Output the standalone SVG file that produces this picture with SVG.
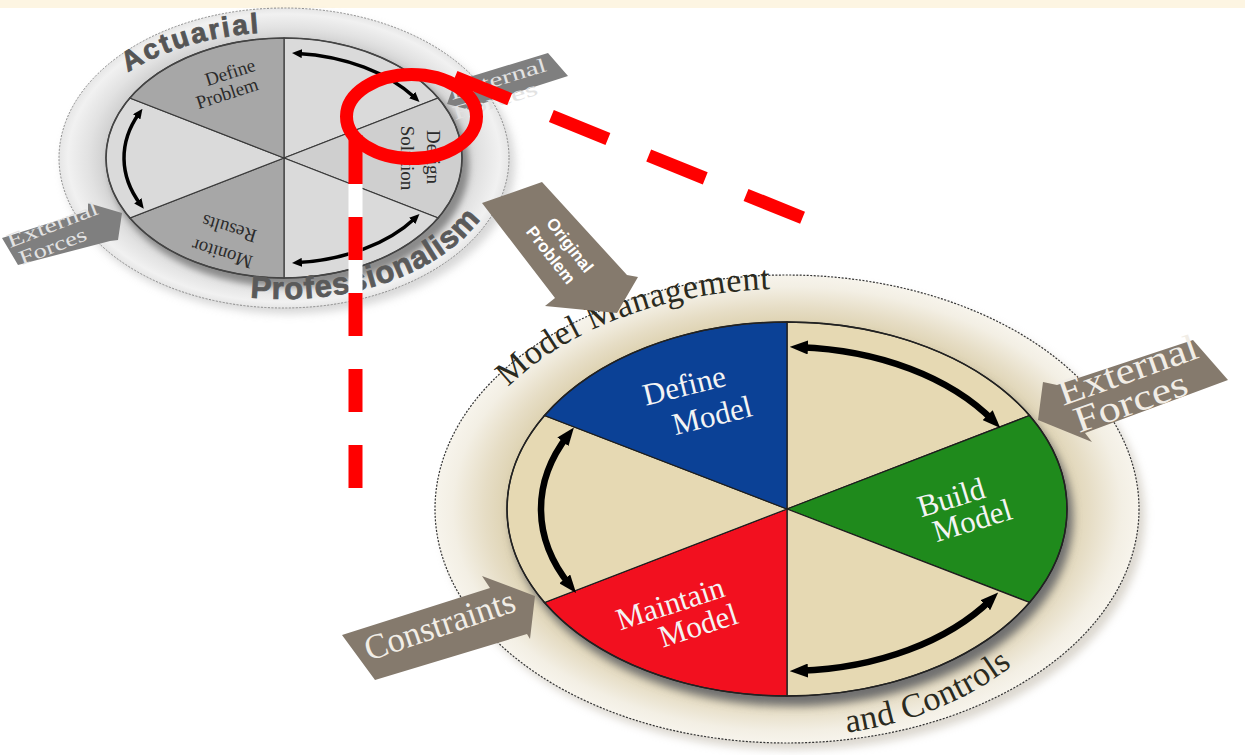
<svg xmlns="http://www.w3.org/2000/svg" width="1245" height="755" viewBox="0 0 1245 755">
<style>
.serif{font-family:"Liberation Serif","Times New Roman",serif}
.sans{font-family:"Liberation Sans",Arial,sans-serif;font-weight:bold}
.sec{stroke:#3a3a3a;stroke-width:1.2}
.bsec{stroke:#1e1e1e;stroke-width:1.3}
.arcS{fill:none;stroke:#000;stroke-width:3.5;marker-start:url(#hs);marker-end:url(#hs)}
.arcB{fill:none;stroke:#000;stroke-width:6.5;marker-start:url(#hb);marker-end:url(#hb)}
.lbl{font-size:31px;fill:#f4f4f4;text-anchor:middle}
.slbl{font-size:19px;fill:#2b2b2b;text-anchor:middle}
.garrow{fill:#7f7f7f}
.barrow{fill:#857a6d}
.gtxt{font-size:20px;fill:#e2e2e2}
.btxt{fill:#f1ede6}
.red{fill:none;stroke:#ff0000;stroke-linecap:butt}
</style>
<defs>
<radialGradient id="ringBig" cx="0.5" cy="0.5" r="0.5">
<stop offset="0.78" stop-color="#dcd0ad"/>
<stop offset="0.86" stop-color="#e6ddc5"/>
<stop offset="0.95" stop-color="#f3efe4"/>
<stop offset="1" stop-color="#f7f4ec"/>
</radialGradient>
<radialGradient id="ringSmall" cx="0.5" cy="0.5" r="0.5">
<stop offset="0.78" stop-color="#cdcdcd"/>
<stop offset="0.87" stop-color="#e2e2e2"/>
<stop offset="0.96" stop-color="#f1f1f1"/>
<stop offset="1" stop-color="#e6e6e6"/>
</radialGradient>
<filter id="blur4" x="-10%" y="-10%" width="120%" height="120%"><feGaussianBlur stdDeviation="4"/></filter>
<filter id="blur3" x="-10%" y="-10%" width="120%" height="120%"><feGaussianBlur stdDeviation="3"/></filter>
<marker id="hb" viewBox="0 0 18 14" markerWidth="18" markerHeight="14" refX="8" refY="7" orient="auto-start-reverse" markerUnits="userSpaceOnUse"><path d="M0,0 L18,7 L0,14 z" fill="#000"/></marker>
<marker id="hs" viewBox="0 0 10 9" markerWidth="10" markerHeight="9" refX="4" refY="4.5" orient="auto-start-reverse" markerUnits="userSpaceOnUse"><path d="M0,0 L10,4.5 L0,9 z" fill="#000"/></marker>
<path id="pMM" d="M508,387.3 A335,220 0 0 1 845.2,292.3"/>
<path id="pAC" d="M847,732.7 A310,228 0 0 0 1055.5,623"/>
<path id="pAct" d="M128,72.4 A212,126 0 0 1 320.8,34"/>
<path id="pPro" d="M250,297.3 A218,141 0 0 0 494.6,194.5"/>
</defs>

<rect x="0" y="0" width="1245" height="755" fill="#ffffff"/>
<rect x="0" y="0" width="1245" height="8" fill="#fdf5e2"/>

<g id="actuarial-cycle">
<ellipse cx="289" cy="164" rx="226" ry="150" fill="#bdbdbd" opacity="0.6" filter="url(#blur4)"/>
<ellipse cx="284" cy="158" rx="225" ry="150" fill="url(#ringSmall)" stroke="#8a8a8a" stroke-width="1" stroke-dasharray="2 1.5"/>
<ellipse cx="289" cy="165" rx="180" ry="122" fill="#8a8a8a" filter="url(#blur3)"/>
<path class="sec" fill="#dadada" d="M284,158 L284,38 A178,120 0 0 1 438.2,98 Z"/>
<path class="sec" fill="#cfcfcf" d="M284,158 L438.2,98 A178,120 0 0 1 438.2,218 Z"/>
<path class="sec" fill="#dadada" d="M284,158 L438.2,218 A178,120 0 0 1 284,278 Z"/>
<path class="sec" fill="#a7a7a7" d="M284,158 L284,278 A178,120 0 0 1 129.8,218 Z"/>
<path class="sec" fill="#dadada" d="M284,158 L129.8,218 A178,120 0 0 1 129.8,98 Z"/>
<path class="sec" fill="#a7a7a7" d="M284,158 L129.8,98 A178,120 0 0 1 284,38 Z"/>
<ellipse cx="284" cy="158" rx="178" ry="120" fill="none" stroke="#444" stroke-width="1.5"/>
<path class="arcS" d="M297.9,53.4 A160,105 0 0 1 415.1,97.8"/>
<path class="arcS" d="M139,113.6 A160,105 0 0 0 140.2,204"/>
<path class="arcS" d="M415.1,218.2 A160,105 0 0 1 297.9,262.6"/>
<text class="sans" font-size="28" fill="#555" stroke="#555" stroke-width="0.8"><textPath href="#pAct" textLength="138">Actuarial</textPath></text>
<text class="sans" font-size="31" fill="#5a5a5a" stroke="#5a5a5a" stroke-width="0.8"><textPath href="#pPro" textLength="253">Professionalism</textPath></text>
<text class="serif slbl" transform="translate(230,72) rotate(-18)" dy="0.35em">Define</text>
<text class="serif slbl" transform="translate(227,93) rotate(-18)" dy="0.35em">Problem</text>
<text class="serif slbl" transform="translate(434,157) rotate(90)" dy="0.35em">Design</text>
<text class="serif slbl" transform="translate(408,158) rotate(90)" dy="0.35em">Solution</text>
<text class="serif slbl" font-size="20" transform="translate(222,254) rotate(197)" dy="0.35em">Monitor</text>
<text class="serif slbl" font-size="20" transform="translate(229,229) rotate(197)" dy="0.35em">Results</text>
</g>

<g id="external-forces-left">
<polygon class="garrow" points="2,238 88,211 88,203 122,213 118,240 110,241 18,265"/>
<text class="serif gtxt" transform="translate(10,248) rotate(-21)" textLength="96" lengthAdjust="spacingAndGlyphs">External</text>
<text class="serif gtxt" transform="translate(22,265) rotate(-21)" textLength="71" lengthAdjust="spacingAndGlyphs">Forces</text>
</g>

<g id="external-forces-top">
<polygon class="garrow" points="447,104 455,82 466,78 548,53 568,76 484,103 478,112"/>
<text class="serif gtxt" transform="translate(452,100) rotate(-17)" textLength="100" lengthAdjust="spacingAndGlyphs">External</text>
<text class="serif gtxt" transform="translate(455,120) rotate(-17)" textLength="88" lengthAdjust="spacingAndGlyphs">Forces</text>
</g>

<g id="model-management-cycle">
<ellipse cx="793" cy="516" rx="352" ry="234" fill="#b9b1a1" opacity="0.5" filter="url(#blur4)"/>
<ellipse cx="787" cy="509" rx="352" ry="234" fill="url(#ringBig)" stroke="#333" stroke-width="1.2" stroke-dasharray="2 1.5"/>
<ellipse cx="792" cy="518" rx="281" ry="188" fill="#707070" filter="url(#blur4)"/>
<path class="bsec" fill="#e6d9b3" d="M787,509 L787,322 A280,187 0 0 1 1029.5,415.5 Z"/>
<path class="bsec" fill="#1f8a1c" d="M787,509 L1029.5,415.5 A280,187 0 0 1 1029.5,602.5 Z"/>
<path class="bsec" fill="#e6d9b3" d="M787,509 L1029.5,602.5 A280,187 0 0 1 787,696 Z"/>
<path class="bsec" fill="#f2101f" d="M787,509 L787,696 A280,187 0 0 1 544.5,602.5 Z"/>
<path class="bsec" fill="#e6d9b3" d="M787,509 L544.5,602.5 A280,187 0 0 1 544.5,415.5 Z"/>
<path class="bsec" fill="#0b4196" d="M787,509 L544.5,415.5 A280,187 0 0 1 787,322 Z"/>
<ellipse cx="787" cy="509" rx="280" ry="187" fill="none" stroke="#222" stroke-width="1.5"/>
<path class="arcB" d="M799.9,347.2 A246,162 0 0 1 993.3,420.8"/>
<path class="arcB" d="M567.8,435.5 A246,162 0 0 0 569.8,585.1"/>
<path class="arcB" d="M991,599.6 A246,162 0 0 1 799.9,670.8"/>
<text class="serif" font-size="34" fill="#2a2a20"><textPath href="#pMM" textLength="286">Model Management</textPath></text>
<text class="serif" font-size="34" fill="#2a2a20"><textPath href="#pAC" textLength="180">and Controls</textPath></text>
<text class="serif lbl" transform="translate(684,385) rotate(-14)" dy="0.35em">Define</text>
<text class="serif lbl" transform="translate(712,415) rotate(-14)" dy="0.35em">Model</text>
<text class="serif lbl" transform="translate(951,497) rotate(-17)" dy="0.35em">Build</text>
<text class="serif lbl" transform="translate(972,520) rotate(-17)" dy="0.35em">Model</text>
<text class="serif lbl" transform="translate(670,603) rotate(-18)" dy="0.35em">Maintain</text>
<text class="serif lbl" transform="translate(698,625) rotate(-18)" dy="0.35em">Model</text>
</g>

<g id="original-problem">
<polygon class="barrow" points="482,203 542,182 627,275 638,277 617,313 545,306 555,298"/>
<text class="sans" font-size="17" fill="#ffffff" text-anchor="middle" transform="translate(570,245) rotate(52)" dy="0.35em">Original</text>
<text class="sans" font-size="17" fill="#ffffff" text-anchor="middle" transform="translate(551,255) rotate(52)" dy="0.35em">Problem</text>
</g>

<g id="external-forces-right">
<polygon class="barrow" points="1038,420 1043,382 1057,385 1193,340 1228,380 1085,433 1092,442"/>
<text class="serif btxt" font-size="37" transform="translate(1063,406) rotate(-19.5)" textLength="146" lengthAdjust="spacingAndGlyphs">External</text>
<text class="serif btxt" font-size="37" transform="translate(1079,433) rotate(-19.5)" textLength="118" lengthAdjust="spacingAndGlyphs">Forces</text>
</g>

<g id="constraints">
<polygon class="barrow" points="342,635 490,588 482,576 535,596 530,639 527,634 375,680"/>
<text class="serif btxt" font-size="35" transform="translate(369,661) rotate(-18.7)" textLength="157" lengthAdjust="spacingAndGlyphs">Constraints</text>
</g>

<g id="connectors">
<line x1="355.5" y1="184" x2="355.5" y2="488" stroke="#ffffff" stroke-width="14"/>
<line class="red" x1="355.5" y1="135" x2="355.5" y2="488" stroke-width="14" stroke-dasharray="49 33 43 33 43 33 43 33 43 40"/>
<line class="red" x1="455" y1="77" x2="803" y2="218" stroke-width="13" stroke-dasharray="59 45 61 44 61 44 61 50"/>
<ellipse class="red" cx="411.5" cy="116.5" rx="65" ry="42" stroke-width="13"/>
</g>
</svg>
